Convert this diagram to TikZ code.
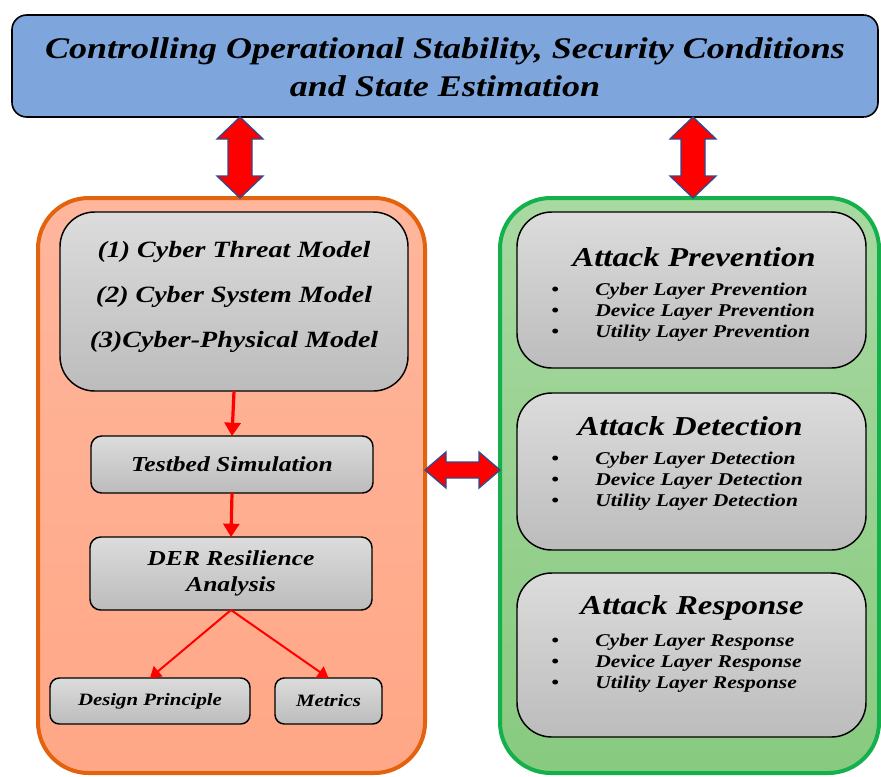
\documentclass[tikz,border=0pt]{standalone}
\usepackage{fontspec}
\setmainfont{Liberation Serif}
\newfontfamily\widefont[FakeStretch=1.2]{Liberation Serif}
\usetikzlibrary{fit,calc,arrows.meta}
\definecolor{topblue}{HTML}{7EA6DC}
\definecolor{orgB}{HTML}{E2620E}
\definecolor{orgT}{HTML}{FFB69C}
\definecolor{orgD}{HTML}{FFA786}
\definecolor{grnB}{HTML}{13B04B}
\definecolor{grnT}{HTML}{A8D9A1}
\definecolor{grnD}{HTML}{88CA80}
\definecolor{gryT}{HTML}{DCDCDC}
\definecolor{gryD}{HTML}{BCBCBC}
\definecolor{arrB}{HTML}{2F4B8F}
\newcommand\mydblV[2]{\draw[dbl] (#1) -- ++(-23,22) -- ++(11,0) -- ($(#2)+(-12,-22)$) -- ++(-11,0) -- (#2) -- ++(23,-22) -- ++(-11,0) -- ($(#1)+(12,22)$) -- ++(11,0) -- cycle;}
\newcommand\mydblH[2]{\draw[dbl] (#1) -- ++(21,-18) -- ++(0,10) -- ($(#2)+(-21,-8)$) -- ++(0,-10) -- (#2) -- ++(-21,18) -- ++(0,-10) -- ($(#1)+(21,8)$) -- ++(0,10) -- cycle;}
\newcommand\fsz[2]{\widefont\bfseries\itshape\fontsize{#1}{#2}\selectfont}
\newcommand\bitem[1]{\makebox[33pt][l]{\textbullet}#1}
\begin{document}
\begin{tikzpicture}[x=0.75pt,y=-0.75pt,
  fitbox/.style={inner sep=0pt,outer sep=0pt},
  graybox/.style={fitbox,draw=black,line width=1.1pt,top color=gryT,bottom color=gryD},
  bi/.style={text=black,inner sep=0pt,align=center},
  dbl/.style={fill=red,draw=arrB,line width=1pt,line join=miter},
  redar/.style={draw=red,line width=2.4pt,-{Triangle[length=10pt,width=12pt]}},
  redthin/.style={draw=red,line width=1.5pt,-{Triangle[length=8pt,width=10pt]}},
  bul/.style={font=\fsz{13.5}{15.75},inner sep=0pt,align=left,anchor=west}
]
\useasboundingbox (0,0) rectangle (881,776);
% top box
\node[fitbox,draw=black,line width=1.2pt,fill=topblue,rounded corners=11pt,fit={(12,15) (878,117)}] (top) {};
\node[bi,font=\fsz{22.5}{28.5}] (topT) at (445,67) {Controlling Operational Stability, Security Conditions\\and State Estimation};
% containers
\node[fitbox,draw=orgB,line width=3pt,top color=orgT,bottom color=orgD,rounded corners=38pt,fit={(38,198) (425,773)}] (left) {};
\node[fitbox,draw=grnB,line width=3pt,top color=grnT,bottom color=grnD,rounded corners=38pt,fit={(500,198) (879,773)}] (right) {};
% double arrows
\coordinate (cx1) at (240,0);
\coordinate (cx2) at (693,0);
\coordinate (cy3) at (0,470);
\mydblV{top.south -| cx1}{left.north -| cx1}
\mydblV{top.south -| cx2}{right.north -| cx2}
\mydblH{left.east |- cy3}{right.west |- cy3}
% left inner boxes
\node[graybox,rounded corners=26pt,fit={(60,212) (408,391)}] (models) {};
\node[bi,font=\fsz{17.5}{33.75}] (modelsT) at (234,297) {(1) Cyber Threat Model\\(2) Cyber System Model\\(3)Cyber-Physical Model};
\node[graybox,rounded corners=8pt,fit={(91,436) (373,493)}] (test) {};
\node[bi,font=\fsz{16}{18}] (testT) at (test.center) {Testbed Simulation};
\node[graybox,rounded corners=8pt,fit={(90,537) (372,610)}] (der) {};
\node[bi,font=\fsz{16}{19.5}] (derT) at (der.center) {DER Resilience\\Analysis};
\node[graybox,rounded corners=7pt,fit={(50,678) (250,724)}] (design) {};
\node[bi,font=\fsz{13}{15}] (designT) at (design.center) {Design Principle};
\node[graybox,rounded corners=7pt,fit={(275,678) (382,724)}] (metrics) {};
\node[bi,font=\fsz{13}{15}] (metricsT) at (metrics.center) {Metrics};
% red arrows
\draw[redar] (models.south) -- (test.north);
\draw[redar] (test.south) -- (der.north);
\draw[redthin] (der.south) -- (design.north);
\draw[redthin] (der.south) -- (metrics.north);
% right inner boxes
\node[graybox,rounded corners=26pt,fit={(517,212) (866,368)}] (prev) {};
\node[bi,font=\fsz{20.5}{25}] (prevT) at (694,257) {Attack Prevention};
\node[bul] (prevL) at (551,312) {\bitem{Cyber Layer Prevention}\\\bitem{Device Layer Prevention}\\\bitem{Utility Layer Prevention}};
\node[graybox,rounded corners=26pt,fit={(517,393) (866,550)}] (det) {};
\node[bi,font=\fsz{20.5}{25}] (detT) at (690,426) {Attack Detection};
\node[bul] (detL) at (551,481) {\bitem{Cyber Layer Detection}\\\bitem{Device Layer Detection}\\\bitem{Utility Layer Detection}};
\node[graybox,rounded corners=26pt,fit={(517,573) (866,737)}] (resp) {};
\node[bi,font=\fsz{20.5}{25}] (respT) at (692,608) {Attack Response};
\node[bul] (respL) at (551,663) {\bitem{Cyber Layer Response}\\\bitem{Device Layer Response}\\\bitem{Utility Layer Response}};
\end{tikzpicture}
\end{document}
